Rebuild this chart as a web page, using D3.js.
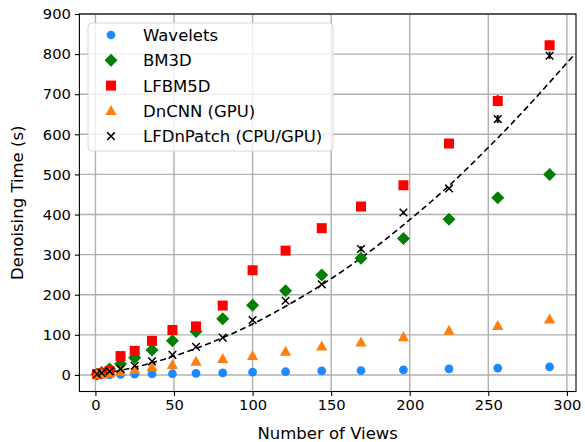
<!DOCTYPE html>
<html><head><meta charset="utf-8">
<script src="https://cdn.jsdelivr.net/npm/d3@7"></script>
<style>body{margin:0;background:#fff}svg{display:block;font-family:"DejaVu Sans",sans-serif}</style>
</head><body><svg id="c" width="585" height="442"></svg>
<script>
const views = [1, 4, 9, 16, 25, 36, 49, 64, 81, 100, 121, 144, 169, 196, 225, 256, 289];
const wavelets = [0.3, 0.6, 1, 1.5, 2, 2.5, 3, 4, 5, 7, 8, 10, 11, 12.5, 15, 17, 20];
const bm3d = [2, 6, 15, 27, 43, 62, 85, 108, 140, 174, 210, 249, 291, 340, 388, 442, 500];
const lfbm5d = [2, 4, 10, 47, 60, 85, 112, 121, 173, 261, 310, 366, 420, 473, 577, 683, 822];
const dncnn = [1, 2, 4, 8, 13, 19, 25, 33, 40, 47, 58, 71, 81, 94, 110, 122, 138];
const lfdnpatch = [2, 5, 9, 15, 23, 34, 50, 70, 93, 137, 185, 226, 314, 405, 465, 638, 796];
// error bars [views, low, high]
const lfbm5dErr = [[256, 670, 698], [289, 810, 834]];
const lfdnpatchErr = [[169, 308, 321], [196, 400, 409], [256, 628, 648], [289, 788, 806]];
// dashed fit curve
const fitX = [0, 25, 50, 75, 100, 125, 150, 175, 200, 225, 250, 275, 305];
const fitY = [0, 19, 47, 83, 127, 180, 240, 309, 387, 472, 567, 669, 800];
const xTicks = [0, 50, 100, 150, 200, 250, 300];
const yTicks = [0, 100, 200, 300, 400, 500, 600, 700, 800, 900];
const seriesNames = ["Wavelets", "BM3D", "LFBM5D", "DnCNN (GPU)", "LFDnPatch (CPU/GPU)"];

const L = 79.4, R = 576, T = 14, B = 391.5;
const svg = d3.select("#c");
const x = d3.scaleLinear().domain([-10.2, 305.8]).range([L, R]);
const y = d3.scaleLinear().domain([-41.3, 900]).range([B, T]);

// grid
const g = svg.append("g");
g.selectAll(".gx").data(xTicks).join("line")
  .attr("x1", d => x(d)).attr("x2", d => x(d)).attr("y1", T).attr("y2", B)
  .attr("stroke", "#b0b0b0").attr("stroke-width", 1.4);
g.selectAll(".gy").data(yTicks).join("line")
  .attr("y1", d => y(d)).attr("y2", d => y(d)).attr("x1", L).attr("x2", R)
  .attr("stroke", "#b0b0b0").attr("stroke-width", 1.4);

// fit curve
svg.append("path")
  .attr("d", d3.line().x(d => x(d[0])).y(d => y(d[1])).curve(d3.curveCatmullRom)(fitX.map((v, i) => [v, fitY[i]])))
  .attr("fill", "none").attr("stroke", "#000").attr("stroke-width", 1.6)
  .attr("stroke-dasharray", "6,3.5");

// error bars
function errbars(data, color) {
  svg.append("g").selectAll("line").data(data).join("line")
    .attr("x1", d => x(d[0])).attr("x2", d => x(d[0]))
    .attr("y1", d => y(d[1])).attr("y2", d => y(d[2]))
    .attr("stroke", color).attr("stroke-width", 2);
}
errbars(lfbm5dErr, "#ff0000");
errbars(lfdnpatchErr, "#000");

const symCircle = d3.symbol().type(d3.symbolCircle).size(60)();
const symDiamond = "M0,-6.5L6.5,0L0,6.5L-6.5,0Z";
const symSquare = "M-5,-5H5V5H-5Z";
const symTri = "M0,-6L5.6,4L-5.6,4Z";
const symX = "M-3.8,-3.8L3.8,3.8M-3.8,3.8L3.8,-3.8";

const series = [
  {vals: wavelets, color: "#1e88ff", path: symCircle, stroke: false},
  {vals: bm3d, color: "#008000", path: symDiamond, stroke: false},
  {vals: lfbm5d, color: "#ff0000", path: symSquare, stroke: false},
  {vals: dncnn, color: "#ff7f0e", path: symTri, stroke: false},
  {vals: lfdnpatch, color: "#000", path: symX, stroke: true}
];
series.forEach(s => {
  svg.append("g").selectAll("path").data(views.map((v, i) => [v, s.vals[i]])).join("path")
    .attr("transform", d => `translate(${x(d[0])},${y(d[1])})`)
    .attr("d", s.path)
    .attr("fill", s.stroke ? "none" : s.color)
    .attr("stroke", s.stroke ? s.color : "none").attr("stroke-width", 1.5);
});

// axes
const xa = svg.append("g").attr("transform", `translate(0,${B})`)
  .call(d3.axisBottom(x).tickValues(xTicks).tickSize(4.5).tickPadding(4));
const ya = svg.append("g").attr("transform", `translate(${L},0)`)
  .call(d3.axisLeft(y).tickValues(yTicks).tickSize(4.5).tickPadding(4));
[xa, ya].forEach(a => {
  a.select(".domain").remove();
  a.selectAll("line").attr("stroke", "#000").attr("stroke-width", 1.1);
  a.selectAll("text").attr("font-size", 14.7).attr("fill", "#000").attr("font-family", "DejaVu Sans");
});
svg.append("rect").attr("x", L).attr("y", T).attr("width", R - L).attr("height", B - T)
  .attr("fill", "none").attr("stroke", "#000").attr("stroke-width", 1.1);

svg.append("text").attr("x", (L + R) / 2).attr("y", 439).attr("text-anchor", "middle")
  .attr("font-size", 16.5).text("Number of Views");
svg.append("text").attr("transform", `translate(23,${(T + B) / 2}) rotate(-90)`)
  .attr("text-anchor", "middle").attr("font-size", 16.5).text("Denoising Time (s)");

// legend
const lg = svg.append("g");
lg.append("rect").attr("x", 88).attr("y", 23).attr("width", 245).attr("height", 128).attr("rx", 4)
  .attr("fill", "#fff").attr("fill-opacity", 0.8).attr("stroke", "#d6d6d6").attr("stroke-width", 1);
seriesNames.forEach((n, i) => {
  const yy = 35 + i * 25.3;
  const s = series[i];
  lg.append("path").attr("transform", `translate(111,${yy})`).attr("d", s.path)
    .attr("fill", s.stroke ? "none" : s.color).attr("stroke", s.stroke ? s.color : "none").attr("stroke-width", 1.5);
  lg.append("text").attr("x", 143).attr("y", yy + 6).attr("font-size", 16.5).text(n);
});
</script></body></html>
